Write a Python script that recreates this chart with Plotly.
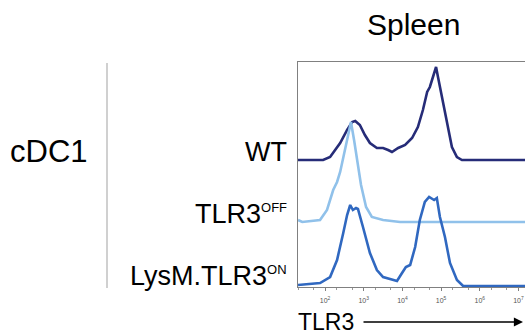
import plotly.graph_objects as go

# TLR3 fluorescence (log10) and relative cell counts
wt_log = [1.30, 1.95, 2.13, 2.39, 2.57, 2.70, 2.78, 2.90, 3.03, 3.16, 3.34, 3.50, 3.63, 3.73,
          3.89, 4.07, 4.25, 4.40, 4.53, 4.64, 4.71, 4.79, 4.87, 4.92, 5.02, 5.15, 5.28, 5.41, 5.54, 7.17]
wt_count = [0, 0, 3, 17, 30, 38, 39, 35, 25, 17, 12, 12, 10, 8,
            12, 15, 22, 33, 50, 68, 73, 83, 93, 83, 63, 37, 13, 3, 0, 0]

off_log = [1.30, 1.41, 1.87, 2.05, 2.21, 2.31, 2.39, 2.49, 2.59, 2.67, 2.75, 2.80, 2.88, 2.93,
           3.06, 3.21, 3.50, 3.94, 7.17]
off_count = [2, 0, 2, 12, 32, 40, 50, 67, 86, 100, 82, 70, 50, 37,
             15, 5, 2, 0, 0]

on_log = [1.30, 1.87, 2.13, 2.31, 2.47, 2.57, 2.65, 2.72, 2.80, 2.85, 2.98, 3.16, 3.34, 3.50,
          3.68, 3.86, 3.99, 4.09, 4.20, 4.33, 4.45, 4.58, 4.69, 4.76, 4.82, 4.89, 4.97, 5.10,
          5.23, 5.41, 5.57, 7.17]
on_count = [1, 3, 9, 26, 53, 71, 81, 76, 78, 77, 59, 33, 16, 9,
            7, 5, 13, 19, 21, 39, 66, 84, 89, 87, 86, 88, 69, 49,
            23, 6, 0, 0]

series_names = ["WT", "TLR3", "LysM.TLR3"]
series_sups = ["", "OFF", "ON"]
series_offsets = [127, 65, 1]
series_colors = ["#262c78", "#90c1ea", "#3068c0"]

tick_exps = [2, 3, 4, 5, 6, 7]

fig = go.Figure()
for name, xs, ys, off, col in zip(series_names,
                                  [wt_log, off_log, on_log],
                                  [wt_count, off_count, on_count],
                                  series_offsets, series_colors):
    fig.add_trace(go.Scatter(
        x=[10 ** v for v in xs], y=[off + c for c in ys], mode="lines",
        line=dict(color=col, width=2.6), name=name, showlegend=False,
        hoverinfo="skip"))

FONT = "Liberation Sans, Arial, sans-serif"

fig.update_layout(
    width=525, height=336,
    margin=dict(l=298, r=0, t=62, b=49),
    paper_bgcolor="white", plot_bgcolor="white",
    font=dict(family=FONT, color="black"),
    xaxis=dict(type="log", range=[1.30, 7.17],
               tickvals=[10 ** e for e in tick_exps],
               ticktext=["10<sup>%d</sup>" % e for e in tick_exps],
               tickfont=dict(size=7, color="#555555"),
               ticks="outside", ticklen=3, tickcolor="#808080",
               minor=dict(ticks="outside", ticklen=2, tickcolor="#999999", showgrid=False),
               showline=True, linecolor="#808080", linewidth=1, mirror=True,
               showgrid=False, zeroline=False, ticklabelstandoff=4),
    yaxis=dict(range=[0, 225], showticklabels=False, ticks="",
               showline=True, linecolor="#808080", linewidth=1, mirror=True,
               showgrid=False, zeroline=False),
)

def px_x(px):
    return (px - 298) / 227.0

def px_y(py):
    return (287 - py) / 225.0

def label(name, sup):
    if sup:
        return name + '<sup><span style="font-size:13px">' + sup + '</span></sup>'
    return name

label_y = [152, 214, 276]
ann = [
    dict(text="Spleen", x=px_x(413), y=px_y(24), size=30, xanchor="center"),
    dict(text="cDC1", x=px_x(49), y=px_y(151), size=31, xanchor="center"),
    dict(text="TLR3", x=px_x(296), y=px_y(322), size=23, xanchor="left"),
]
for name, sup, ly in zip(series_names, series_sups, label_y):
    ann.append(dict(text=label(name, sup), x=px_x(289), y=px_y(ly), size=27, xanchor="right"))

for a in ann:
    fig.add_annotation(text=a["text"], x=a["x"], y=a["y"], xref="paper", yref="paper",
                       xanchor=a["xanchor"], yanchor="middle", showarrow=False,
                       font=dict(size=a["size"], family=FONT, color="black"))

# arrow next to axis title
fig.add_annotation(x=px_x(523), y=px_y(322), ax=-161, ay=0, xref="paper", yref="paper",
                   text="", showarrow=True, arrowhead=2, arrowsize=1.4, arrowwidth=1.3,
                   arrowcolor="black")

# vertical separator line
fig.add_shape(type="line", xref="paper", yref="paper",
              x0=px_x(107), x1=px_x(107), y0=px_y(63), y1=px_y(288),
              line=dict(color="#c0c0c0", width=1.5))

fig.write_html("out.html", config={"displayModeBar": False},
               post_script="document.body.style.margin='0';document.body.style.overflow='hidden';")
